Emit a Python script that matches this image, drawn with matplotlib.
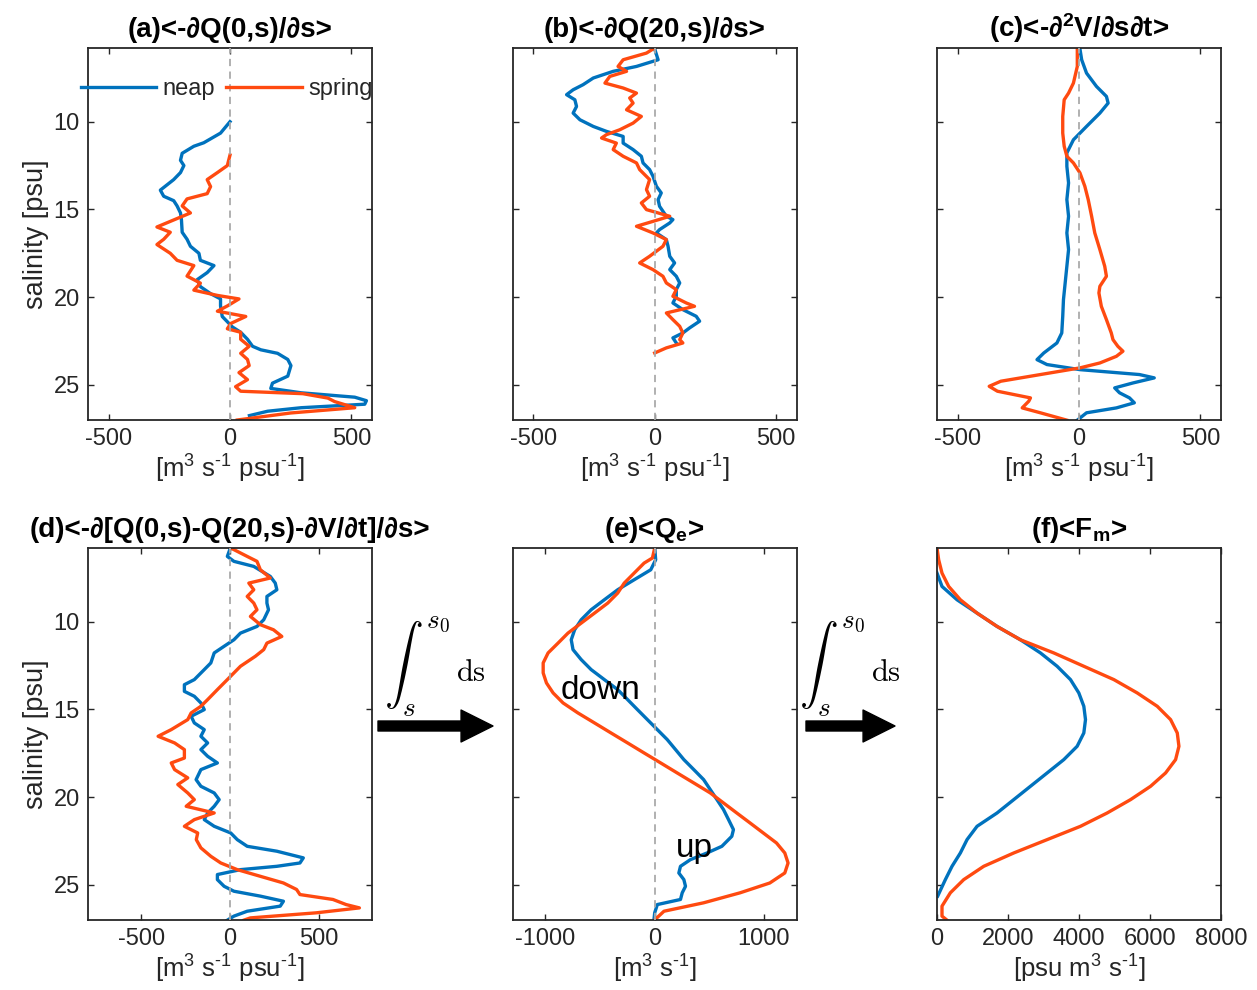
import matplotlib
matplotlib.use("Agg")
import matplotlib.pyplot as plt
from matplotlib.patches import FancyArrowPatch

plt.rcParams['font.family'] = ['Liberation Sans', 'DejaVu Sans']
plt.rcParams['mathtext.fontset'] = 'custom'
plt.rcParams['mathtext.rm'] = 'Liberation Sans'
plt.rcParams['mathtext.bf'] = 'Liberation Sans:bold'
plt.rcParams['mathtext.it'] = 'Liberation Sans:italic'
plt.rcParams['axes.unicode_minus'] = False

NEAP = '#0072BD'
SPRING = '#FF4A10'
AXC = '#262626'

# ---- (a) -dQ(0,s)/ds
s_a_neap = [10.0, 10.65, 11.2, 11.4, 11.8, 12.2, 12.5, 12.9, 13.3, 13.9, 14.25, 14.5, 14.8, 15.2, 15.6,
            16.3, 16.7, 17.1, 17.5, 17.9, 18.2, 18.6, 19.0, 19.4, 19.8, 20.1, 20.5, 21.1, 21.7, 22.0,
            22.4, 22.8, 23.0, 23.2, 23.55, 23.9, 24.5, 24.9, 25.2, 25.45, 25.7, 25.9, 26.1, 26.3, 26.5, 26.75]
x_a_neap = [0, -39, -108, -149, -197, -204, -190, -204, -232, -287, -273, -232, -218, -204, -200,
            -197, -177, -163, -128, -122, -66, -94, -135, -122, -80, -39, -39, -32, 10, 44,
            72, 93, 127, 196, 238, 251, 238, 175, 168, 293, 514, 562, 555, 293, 155, 80]
s_a_spring = [11.9, 12.5, 12.9, 13.3, 13.7, 14.1, 14.4, 14.8, 15.2, 15.6, 16.0, 16.3, 16.7, 17.0, 17.5,
              17.9, 18.2, 18.8, 19.2, 19.6, 19.9, 20.1, 20.5, 20.8, 21.1, 21.5, 21.8, 22.0, 22.4, 22.8,
              23.2, 23.55, 23.9, 24.3, 24.7, 25.1, 25.36, 25.5, 25.75, 25.95, 26.3, 26.6, 27.0]
x_a_spring = [0, -11, -52, -94, -80, -94, -177, -197, -163, -232, -301, -246, -273, -301, -246,
              -218, -149, -177, -122, -149, -52, 37, -11, -52, 65, 3, -11, 44, 44, 79,
              44, 72, 79, 37, 72, 23, 44, 300, 403, 431, 514, 250, 30]

# ---- (b) -dQ(20,s)/ds
s_b_neap = [5.86, 6.47, 6.85, 7.13, 7.51, 7.89, 8.18, 8.46, 8.75, 9.13, 9.51, 9.89, 10.27, 10.55, 10.84,
            11.22, 11.59, 11.97, 12.35, 12.73, 13.11, 13.68, 14.06, 14.44, 14.82, 15.39, 15.58, 15.77,
            16.15, 16.34, 16.72, 17.10, 17.67, 18.05, 18.43, 18.81, 19.19, 19.57, 19.95, 20.33, 20.71,
            21.09, 21.37, 21.75, 22.04, 22.32, 22.61]
x_b_neap = [0, 14, -75, -171, -253, -295, -336, -363, -329, -322, -336, -308, -253, -199, -130,
            -130, -89, -55, -48, -21, -7, 7, 27, 14, 20, 48, 75, 62,
            20, 7, 48, 55, 62, 82, 62, 89, 103, 89, 89, 75, 116,
            171, 185, 144, 116, 75, 89]
s_b_spring = [5.80, 6.09, 6.47, 6.85, 7.13, 7.42, 7.80, 8.08, 8.37, 8.65, 8.94, 9.32, 9.70, 10.08, 10.46,
              10.74, 10.93, 11.22, 11.59, 11.97, 12.35, 12.73, 13.30, 13.87, 14.25, 14.63, 15.01, 15.39,
              15.68, 15.96, 16.34, 16.72, 17.10, 17.67, 18.05, 18.43, 18.81, 19.19, 19.57, 19.95, 20.33,
              20.52, 20.90, 21.28, 21.66, 22.04, 22.42, 22.61, 22.89, 23.18]
x_b_spring = [0, -34, -130, -151, -116, -185, -205, -130, -75, -103, -89, -116, -55, -89, -144,
              -199, -219, -158, -171, -130, -75, -62, -21, -34, -21, -55, -34, 62,
              -7, -75, -7, 48, 34, -21, -62, -7, 34, 48, 89, 75, 130,
              164, 48, 75, 103, 116, 103, 116, 48, 0]

# ---- (c) -d2V/dsdt
s_c_neap = [5.86, 6.47, 7.23, 7.99, 8.56, 8.94, 9.51, 10.27, 11.03, 11.78, 12.54, 13.49, 14.44, 15.39,
            16.34, 17.29, 18.24, 19.19, 20.14, 21.09, 22.04, 22.61, 23.18, 23.56, 23.84, 24.13, 24.41,
            24.60, 24.89, 25.17, 25.45, 25.74, 26.02, 26.31, 26.59, 27.01]
x_c_neap = [4, 11, 31, 72, 113, 120, 86, 31, -23, -50, -50, -43, -50, -43,
            -50, -43, -50, -57, -64, -67, -71, -91, -145, -173, -132, 4, 249,
            310, 222, 147, 167, 208, 228, 154, 31, -7]
s_c_spring = [5.80, 6.85, 7.80, 8.37, 8.75, 9.70, 10.65, 11.40, 11.97, 12.35, 12.92, 13.68, 14.44, 15.39,
              16.34, 17.29, 18.24, 18.81, 19.38, 19.76, 20.52, 21.28, 22.04, 22.42, 22.80, 23.08, 23.37,
              23.75, 24.03, 24.41, 24.79, 25.08, 25.36, 25.74, 25.93, 26.31, 26.59, 27.01]
x_c_spring = [-7, -7, -23, -43, -61, -67, -67, -61, -50, -23, 4, 24, 38, 52,
              65, 86, 106, 113, 86, 82, 92, 113, 133, 140, 160, 181, 154,
              86, 4, -159, -322, -370, -336, -200, -207, -234, -159, -50]

# ---- (d) residual
s_d_neap = [5.86, 6.28, 6.56, 6.85, 7.42, 7.80, 8.18, 8.56, 8.94, 9.32, 9.89, 10.27, 10.65, 11.03, 11.40,
            11.78, 12.35, 12.73, 13.30, 13.59, 13.97, 14.25, 14.63, 15.01, 15.39, 15.77, 16.15, 16.53,
            16.91, 17.29, 17.67, 18.05, 18.43, 19.00, 19.38, 19.76, 20.14, 20.52, 20.90, 21.28, 21.66,
            22.04, 22.42, 22.80, 23.08, 23.46, 23.75, 23.94, 24.13, 24.41, 24.70, 25.08, 25.36, 25.64,
            25.93, 26.21, 26.50, 26.78, 27.01]
x_d_neap = [0, -15, 22, 134, 227, 255, 264, 208, 208, 217, 190, 152, 59, 22, -33,
            -89, -108, -145, -201, -257, -257, -201, -164, -145, -219, -201, -145, -164,
            -126, -164, -126, -71, -164, -191, -164, -89, -61, -89, -126, -145, -89,
            4, 41, 97, 264, 413, 394, 264, 59, -71, -71, -33, 22, 171,
            301, 283, 97, 22, -15]
s_d_spring = [5.80, 6.28, 6.56, 7.04, 7.51, 7.80, 8.18, 8.56, 8.94, 9.32, 9.70, 10.17, 10.46, 10.84, 11.22,
              11.59, 11.97, 12.54, 12.92, 13.30, 13.87, 14.44, 14.82, 15.20, 15.58, 16.15, 16.53, 16.91,
              17.29, 17.77, 18.05, 18.43, 18.90, 19.28, 19.76, 20.14, 20.52, 20.90, 21.28, 21.66, 22.04,
              22.42, 22.89, 23.37, 23.75, 24.13, 24.51, 24.89, 25.26, 25.55, 25.83, 26.12, 26.31, 26.59,
              26.88, 27.01]
x_d_spring = [4, 97, 152, 171, 227, 106, 134, 97, 134, 152, 115, 171, 245, 292, 208,
              190, 143, 59, 22, -15, -71, -126, -164, -219, -238, -331, -405, -312,
              -257, -257, -331, -312, -238, -294, -238, -201, -247, -89, -201, -257, -182,
              -190, -164, -108, -52, 41, 171, 301, 375, 394, 580, 654, 729, 487,
              115, 78]

# ---- (e) Qe
s_e_neap = [5.80, 6.47, 7.04, 7.61, 8.18, 8.75, 9.32, 9.89, 10.46, 11.03, 11.59, 12.16, 12.73, 13.30,
            13.87, 14.44, 15.01, 15.58, 16.15, 16.72, 17.29, 17.86, 18.43, 19.00, 19.57, 20.14, 20.71,
            21.28, 21.85, 22.23, 22.80, 23.18, 23.56, 23.94, 24.32, 24.70, 25.08, 25.45, 25.83, 26.12,
            26.59, 26.94]
x_e_neap = [0, 9, -36, -188, -339, -461, -582, -673, -733, -764, -748, -673, -582, -461,
            -339, -248, -158, -67, 24, 115, 191, 267, 358, 448, 509, 570, 630,
            676, 721, 706, 615, 479, 327, 236, 221, 267, 282, 252, 236, 24,
            0, -6]
s_e_spring = [5.80, 6.37, 6.66, 7.23, 7.80, 8.37, 8.94, 9.51, 10.08, 10.65, 11.22, 11.78, 12.35, 12.92,
              13.49, 14.06, 14.63, 15.20, 15.77, 16.34, 16.91, 17.48, 18.05, 18.62, 19.19, 19.76, 20.33,
              20.90, 21.47, 22.04, 22.61, 23.18, 23.75, 24.32, 24.89, 25.45, 26.02, 26.50, 26.94]
x_e_spring = [0, -21, -97, -188, -279, -339, -430, -551, -673, -794, -885, -976, -1021, -1021,
              -991, -930, -839, -703, -551, -400, -248, -97, 55, 206, 358, 509, 630,
              751, 873, 994, 1115, 1191, 1221, 1191, 1054, 782, 448, 85, 9]

# ---- (f) Fm
s_f_neap = [7.23, 7.99, 8.75, 9.51, 10.27, 11.03, 11.78, 12.54, 13.30, 14.06, 14.82, 15.58, 16.34,
            17.10, 17.86, 18.62, 19.38, 20.14, 20.90, 21.66, 22.42, 23.18, 23.94, 24.70, 25.64]
x_f_neap = [0, 141, 564, 1128, 1692, 2350, 2914, 3384, 3760, 3995, 4136, 4183, 4136,
            3948, 3572, 3102, 2632, 2162, 1692, 1128, 846, 658, 423, 235, 19]
s_f_spring = [5.80, 6.47, 7.23, 7.99, 8.75, 9.51, 10.27, 11.03, 11.78, 12.54, 13.30, 14.06, 14.82, 15.58,
              16.34, 17.10, 17.86, 18.62, 19.38, 20.14, 20.90, 21.66, 22.42, 23.18, 23.94, 24.70, 25.45,
              26.21, 26.78, 27.01]
x_f_spring = [0, 47, 141, 329, 658, 1128, 1692, 2350, 3290, 4136, 4982, 5640, 6204, 6580,
              6768, 6815, 6721, 6439, 6016, 5452, 4794, 4042, 3102, 2162, 1316, 752, 376,
              141, 141, 282]

titles = ['(a)<-\u2202Q(0,s)/\u2202s>', '(b)<-\u2202Q(20,s)/\u2202s>',
          '(c)<-\u2202$^{\\mathbf{2}}$V/\u2202s\u2202t>',
          '(d)<-\u2202[Q(0,s)-Q(20,s)-\u2202V/\u2202t]/\u2202s>',
          '(e)<Q$_{\\mathbf{e}}$>', '(f)<F$_{\\mathbf{m}}$>']
unit_flux = '[m$^{\\mathrm{3}}$ s$^{\\mathrm{\u2010 1}}$ psu$^{\\mathrm{\u2010 1}}$]'
xlabels = [unit_flux, unit_flux, unit_flux, unit_flux,
           '[m$^{\\mathrm{3}}$ s$^{\\mathrm{\u2010 1}}$]', '[psu m$^{\\mathrm{3}}$ s$^{\\mathrm{\u2010 1}}$]']
xlims = [(-585, 585), (-585, 585), (-585, 585), (-800, 800), (-1300, 1300), (0, 8000)]
xticks = [[-500, 0, 500]] * 4 + [[-1000, 0, 1000], [0, 2000, 4000, 6000, 8000]]

curves = [
    (s_a_neap, x_a_neap, s_a_spring, x_a_spring),
    (s_b_neap, x_b_neap, s_b_spring, x_b_spring),
    (s_c_neap, x_c_neap, s_c_spring, x_c_spring),
    (s_d_neap, x_d_neap, s_d_spring, x_d_spring),
    (s_e_neap, x_e_neap, s_e_spring, x_e_spring),
    (s_f_neap, x_f_neap, s_f_spring, x_f_spring),
]

W, H = 1257, 990
fig = plt.figure(figsize=(W / 100, H / 100), dpi=100)

col_left = [88, 512.7, 937]
row_top = [48, 548]
aw, ah = 284, 372

axes = []
for i in range(6):
    r, c = divmod(i, 3)
    ax = fig.add_axes([col_left[c] / W, 1 - (row_top[r] + ah) / H, aw / W, ah / H])
    sn, xn, ss, xs = curves[i]
    ax.plot(xn, sn, color=NEAP, lw=2.4, label='neap', zorder=2)
    ax.plot(xs, ss, color=SPRING, lw=2.4, label='spring', zorder=2)
    if i != 5:
        ax.axvline(0, color='#aaaaaa', ls='--', lw=1.3, dashes=(4, 3), zorder=3)
    ax.set_ylim(27, 5.8)
    ax.set_xlim(*xlims[i])
    ax.set_xticks(xticks[i])
    ax.set_yticks([10, 15, 20, 25])
    ax.tick_params(direction='in', top=True, right=True, length=4, width=1,
                   labelsize=17, colors=AXC, pad=6)
    if c != 0:
        ax.set_yticklabels([])
    else:
        ax.set_ylabel('salinity [psu]', fontsize=19.5, color=AXC, labelpad=3)
    ax.set_xlabel(xlabels[i], fontsize=18.5, color=AXC, labelpad=2)
    ax.set_title(titles[i], fontsize=20, fontweight='bold', pad=8)
    for sp in ax.spines.values():
        sp.set_linewidth(1.3)
        sp.set_color(AXC)
    axes.append(ax)

leg = axes[0].legend(loc='center', bbox_to_anchor=(0.488, 0.89), ncol=2, frameon=False,
                     fontsize=17, handlelength=3.2, handletextpad=0.25, columnspacing=0.5,
                     borderpad=0, borderaxespad=0)
for t in leg.get_texts():
    t.set_color(AXC)

axes[4].text(-495, 13.9, 'down', fontsize=24, ha='center', va='center')
axes[4].text(367, 22.9, 'up', fontsize=24, ha='center', va='center')

# integration arrows between bottom panels
for x0, x1, xi, xd in [(378, 493, 384, 456), (806, 895, 799, 871)]:
    y = 1 - 726 / H
    arr = FancyArrowPatch((x0 / W, y), (x1 / W, y), transform=fig.transFigure,
                          arrowstyle='simple,head_length=1.15,head_width=1.15,tail_width=0.36',
                          mutation_scale=20, color='k', shrinkA=0, shrinkB=0)
    fig.add_artist(arr)
    fig.text(xi / W, 1 - 667 / H, r'$\int_s^{s_0}$', math_fontfamily='cm', fontsize=28,
             ha='left', va='center')
    fig.text(xd / W, 1 - 673 / H, r'$\mathrm{ds}$', math_fontfamily='cm', fontsize=22,
             ha='left', va='center')

fig.savefig('out.png', dpi=100)
